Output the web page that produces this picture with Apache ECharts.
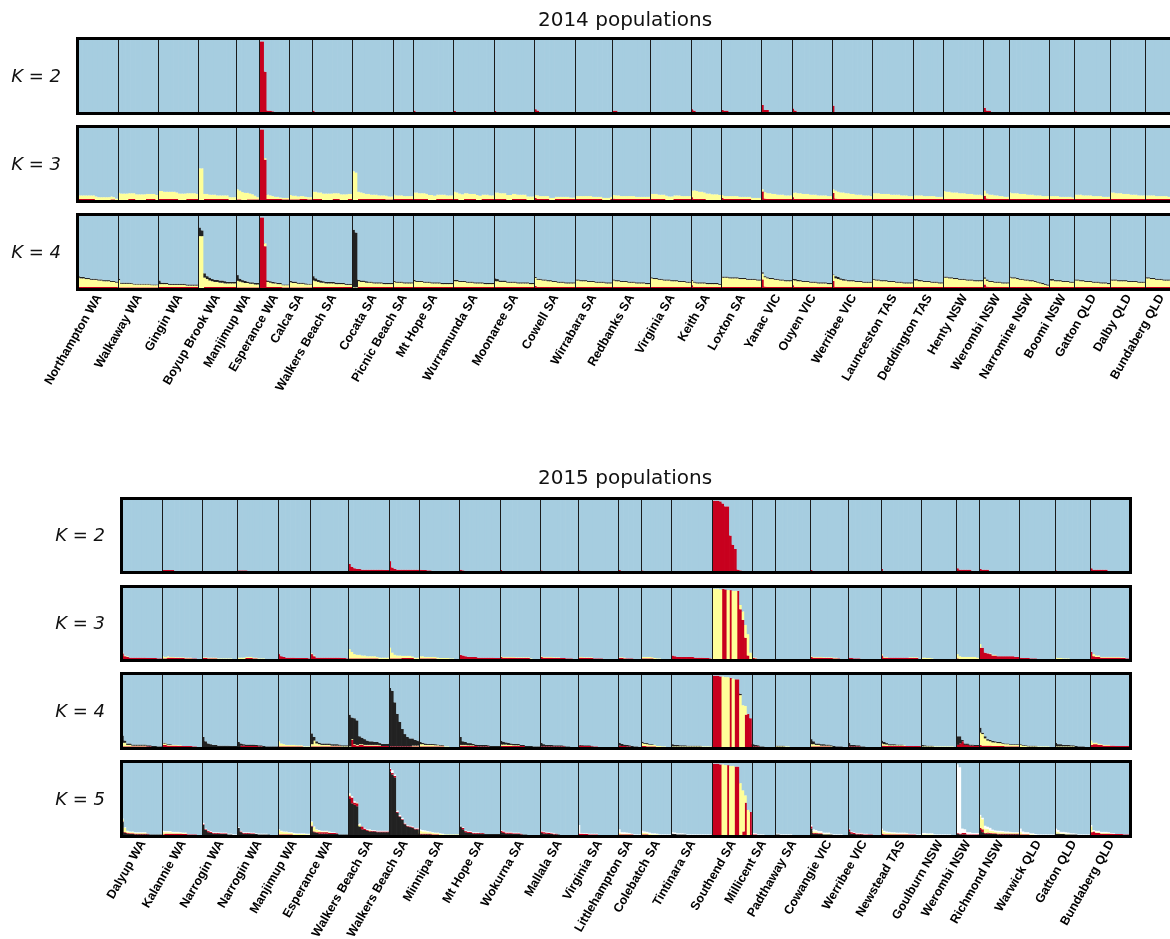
<!DOCTYPE html>
<html><head><meta charset="utf-8">
<script src="https://cdn.jsdelivr.net/npm/echarts@6/dist/echarts.min.js"></script>
<style>html,body{margin:0;padding:0;background:#fff}#c{width:1170px;height:939px}</style>
</head><body><div id="c"></div><script>
// ---------- categories ----------
const pops2014 = ["Northampton WA","Walkaway WA","Gingin WA","Boyup Brook WA","Manjimup WA","Esperance WA","Calca SA","Walkers Beach SA","Cocata SA","Picnic Beach SA","Mt Hope SA","Wurramunda SA","Moonaree SA","Cowell SA","Wirrabara SA","Redbanks SA","Virginia SA","Keith SA","Loxton SA","Yanac VIC","Ouyen VIC","Werribee VIC","Launceston TAS","Deddington TAS","Henty NSW","Werombi NSW","Narromine NSW","Boomi NSW","Gatton QLD","Dalby QLD","Bundaberg QLD"];
const n2014 = [16,16,16,15,9,12,9,16,16,8,16,16,16,16,15,15,16,12,16,12,16,16,16,12,16,10,16,10,14,14,12];
const pops2015 = ["Dalyup WA","Kalannie WA","Narrogin WA","Narrogin WA","Manjimup WA","Esperance WA","Walkers Beach SA","Walkers Beach SA","Minnipa SA","Mt Hope SA","Wokurna SA","Mallala SA","Virginia SA","Littlehampton SA","Colebatch SA","Tintinara SA","Southend SA","Millicent SA","Padthaway SA","Cowangie VIC","Werribee VIC","Newstead TAS","Goulburn NSW","Werombi NSW","Richmond NSW","Warwick QLD","Gatton QLD","Bundaberg QLD"];
const n2015 = [16,16,14,16,13,15,16,12,16,16,16,15,16,9,12,16,16,9,14,15,13,16,14,9,16,14,14,16];

// ---------- 2014, membership (%) per individual, per population ----------
const k2_14_red = [[],[],[],[],[],[98,98,56,2,2,1],[],[2],[],[],[2],[1.5],[1.5],[4,2],[],[2,2],[],[4,2],[3,2,2],[10,3,3],[5,2],[9],[],[],[],[6,2,2],[],[],[1],[],[]];

const k3_14_red = [
[1.5,1.5,1.5,1.5,1.5,1.5,1.5,0,0,0,0,0,0,1,1,0],
[0,0,0,0,1.5,1.5,1.5,0,0,0,0,1.5,1.5,1.5,1.5,0],
[1.5,1.5,1.5,1.5,1.5,1.5,1.5,1.5,0,0,0,1.5,1.5,1.5,1.5,1.5],
[0,0,1.5,1.5,1.5,1.5,1.5,1.5,1.5,1.5,1.5,1.5,0,0,0],
[1,1,0,0,1,1,1,1,1],
[98,98,56,1.5,1.5,1.5,1.5,1.5,1.5,1,1,1],
[1,1,1,1,1.5,1.5,1.5,1,1],
[1.5,1.5,1.5,1.5,0,0,0,0,1.5,1.5,1.5,0,0,0,1.5,1.5],
[0,0,1.5,1.5,1.5,1.5,1.5,1.5,1.5,1.5,1.5,1.5,1.5,1,1,1],
[1.5,1.5,1.5,1.5,1.5,1.5,1.5,1.5],
[1.5,1.5,1.5,1.5,1.5,1.5,0,0,0,1.5,1.5,1.5,1.5,1.5,1.5,1.5],
[1.5,1.5,0,0,1.5,1.5,1.5,1.5,1.5,0,0,1.5,1.5,1.5,1.5,1.5],
[1.5,1.5,1.5,1.5,1.5,0,0,1.5,1.5,1.5,1.5,1.5,1.5,0,0,0],
[3,1.5,1.5,1.5,1.5,1.5,0,0,1.5,1.5,1.5,1.5,1.5,1.5,1.5,1.5],
[1.5,1.5,1.5,1.5,1.5,1.5,1.5,1.5,1.5,1.5,1.5,0,0,0,1.5],
[2,1.5,1.5,1.5,1.5,1.5,1.5,1.5,1.5,1.5,1.5,1.5,1.5,1.5,1.5],
[1.5,1.5,1.5,1.5,1.5,1.5,0,0,0,1.5,1.5,1.5,1.5,1.5,1.5,1.5],
[4,1.5,1.5,1.5,1.5,1.5,0,0,0,0,0,0],
[3,1.5,1.5,1.5,1.5,1.5,1.5,1.5,1.5,1.5,1.5,1.5,0,0,0,0],
[12,2,1.5,1.5,1.5,1.5,1.5,1.5,1.5,1.5,1.5,1.5],
[4,1.5,1.5,1.5,1.5,1.5,1.5,1.5,1.5,1.5,1.5,1.5,1.5,1.5,1.5,1.5],
[10,2,1.5,1.5,1.5,1.5,1.5,1.5,1.5,1.5,1.5,1.5,1.5,1.5,1.5,1.5],
[1.5,1.5,1.5,1.5,1.5,1.5,1.5,1.5,1.5,1.5,1.5,1.5,1.5,1.5,1.5,1.5],
[1.5,1.5,1.5,1.5,1.5,1.5,1.5,1.5,1.5,1.5,1.5,1.5],
[1.5,1.5,1.5,1.5,1.5,1.5,1.5,1.5,1.5,1.5,1.5,1.5,1.5,1.5,1.5,1.5],
[6,2,1.5,1.5,1.5,1.5,1.5,1.5,1.5,1.5],
[1.5,1.5,1.5,1.5,1.5,1.5,1.5,1.5,1.5,1.5,1.5,1.5,1.5,1.5,1.5,1.5],
[1.5,1.5,1.5,1.5,1.5,1.5,1.5,1.5,1.5,1.5],
[1.5,1.5,1.5,1.5,1.5,1.5,1.5,1.5,1.5,1.5,1.5,1.5,1.5,1.5],
[1.5,1.5,1.5,1.5,1.5,1.5,1.5,1.5,1.5,1.5,1.5,1.5,1.5,1.5],
[1.5,1.5,1.5,1.5,1.5,1.5,1.5,1.5,1.5,1.5,1.5,1.5]];
const k3_14_yel = [
[5,5,5,5,5,5,5,5,4,4,4,4,4,4,3,2],
[10,9,9,9,8,8,8,8,8,8,8,7,7,7,7,7],
[11,11,10,10,10,10,10,9,9,9,9,8,8,8,8,7],
[44,44,7,7,6,6,6,5,5,5,5,5,4,4,4],
[14,12,11,10,9,8,7,5,3],
[0,0,2,6,5,4,3,3,2,2,2,2],
[6,5,5,4,4,4,3,3,3],
[10,10,9,9,9,9,9,9,8,8,8,8,8,8,7,7],
[40,38,10,9,8,7,7,6,6,6,5,5,5,5,4,4],
[6,5,5,5,4,4,4,4],
[9,9,8,8,8,7,7,7,6,6,6,6,6,5,5,5],
[10,9,9,8,8,8,7,7,7,7,6,6,6,6,5,5],
[9,9,8,8,8,7,7,7,7,6,6,6,6,5,5,5],
[4,5,4,4,4,4,3,3,3,3,3,3,3,3,2,2],
[4,4,4,4,4,4,4,3,3,3,3,3,3,3,3],
[5,5,5,4,4,4,4,4,4,3,3,3,3,3,3],
[7,7,7,6,6,6,6,5,5,5,5,5,4,4,4,4],
[9,12,11,10,10,9,9,9,8,8,8,7],
[4,4,4,4,4,4,4,3,3,3,3,3,3,3,3,3],
[3,9,8,8,7,7,6,6,6,5,5,5],
[6,9,8,8,7,7,7,6,6,6,5,5,5,5,4,4],
[5,11,10,9,9,8,8,7,7,6,6,6,5,5,5,4],
[8,8,8,7,7,7,7,6,6,6,6,5,5,5,4,4],
[5,5,5,5,4,4,4,4,4,3,3,3],
[11,10,10,9,9,9,8,8,8,7,7,7,6,6,6,5],
[7,7,6,6,5,5,4,4,3,3],
[9,8,8,8,7,7,7,6,6,6,5,5,5,4,4,4],
[4,4,4,4,3,3,3,3,3,2],
[6,6,6,5,5,5,5,4,4,4,4,3,3,3],
[9,9,8,8,8,7,7,7,6,6,6,5,5,5],
[5,5,5,5,4,4,4,4,4,3,3,3]];

const k4_14_red = [
[1.5,1.5,1.5,1.5,1.5,1.5,1.5,1.5,1.5,1.5,1.5,1.5,1.5,1.5,1.5,1.5],
[1,1,1,1,1,1,1,1,1,1,1,1,1,1,1,1],
[1.5,1.5,1.5,1.5,1.5,1.5,1.5,1.5,1.5,1.5,1.5,1.5,1.5,1.5,1.5,1.5],
[0,0,1.5,1.5,1.5,1.5,1.5,1.5,1.5,1.5,1.5,1.5,1.5,1.5,1.5],
[1,1,1,1,1,1,1,1,1],
[98,98,58,1.5,1.5,1.5,1.5,1.5,1.5,1,1,1],
[1,1,1,1,1,1,1,1,1],
[1.5,1.5,1.5,1.5,1.5,1.5,1.5,1.5,1.5,1.5,1.5,1.5,1.5,1.5,1.5,1.5],
[0,0,1.5,1.5,1.5,1.5,1.5,1.5,1.5,1.5,1.5,1.5,1.5,1.5,1.5,1.5],
[1.5,1.5,1.5,1.5,1.5,1.5,1.5,1.5],
[1.5,1.5,1.5,1.5,1.5,1.5,1.5,1.5,1.5,1.5,1.5,1.5,1.5,1.5,1.5,1.5],
[1.5,1.5,1.5,1.5,1.5,1.5,1.5,1.5,1.5,1.5,1.5,1.5,1.5,1.5,1.5,1.5],
[1.5,1.5,1.5,1.5,1.5,1.5,1.5,1.5,1.5,1.5,1.5,1.5,1.5,1.5,1.5,1.5],
[3,1.5,1.5,1.5,1.5,1.5,1.5,1.5,1.5,1.5,1.5,1.5,1.5,1.5,1.5,1.5],
[1.5,1.5,1.5,1.5,1.5,1.5,1.5,1.5,1.5,1.5,1.5,1.5,1.5,1.5,1.5],
[1.5,1.5,1.5,1.5,1.5,1.5,1.5,1.5,1.5,1.5,1.5,1.5,1.5,1.5,1.5],
[1.5,1.5,1.5,1.5,1.5,1.5,1.5,1.5,1.5,1.5,1.5,1.5,1.5,1.5,1.5,1.5],
[4,1.5,1.5,1.5,1.5,1.5,1.5,1.5,1.5,1.5,1.5,1.5],
[1.5,1.5,1.5,1.5,1.5,1.5,1.5,1.5,1.5,1.5,1.5,1.5,1.5,1.5,1.5,1.5],
[12,2,1.5,1.5,1.5,1.5,1.5,1.5,1.5,1.5,1.5,1.5],
[4,1.5,1.5,1.5,1.5,1.5,1.5,1.5,1.5,1.5,1.5,1.5,1.5,1.5,1.5,1.5],
[10,1.5,1.5,1.5,1.5,1.5,1.5,1.5,1.5,1.5,1.5,1.5,1.5,1.5,1.5,1.5],
[1.5,1.5,1.5,1.5,1.5,1.5,1.5,1.5,1.5,1.5,1.5,1.5,1.5,1.5,1.5,1.5],
[1.5,1.5,1.5,1.5,1.5,1.5,1.5,1.5,1.5,1.5,1.5,1.5],
[1.5,1.5,1.5,1.5,1.5,1.5,1.5,1.5,1.5,1.5,1.5,1.5,1.5,1.5,1.5,1.5],
[5,2,1.5,1.5,1.5,1.5,1.5,1.5,1.5,1.5],
[1.5,1.5,1.5,1.5,1.5,1.5,1.5,1.5,1.5,1.5,1.5,1.5,1.5,1.5,1.5,1.5],
[1.5,1.5,1.5,1.5,1.5,1.5,1.5,1.5,1.5,1.5],
[1.5,1.5,1.5,1.5,1.5,1.5,1.5,1.5,1.5,1.5,1.5,1.5,1.5,1.5],
[1.5,1.5,1.5,1.5,1.5,1.5,1.5,1.5,1.5,1.5,1.5,1.5,1.5,1.5],
[1.5,1.5,1.5,1.5,1.5,1.5,1.5,1.5,1.5,1.5,1.5,1.5]];
const k4_14_yel = [
[13,12,12,11,11,10,10,10,9,9,8,8,8,7,7,6],
[10,5,5,5,5,5,4,4,4,4,4,4,4,3,3,3],
[4,4,4,4,3,3,3,3,3,3,3,2,2,2,2,2],
[72,72,13,11,9,8,7,7,6,6,5,5,5,5,5],
[9,8,7,6,6,5,5,4,4],
[0,0,4,7,6,5,5,4,4,3,3,3],
[7,6,6,5,5,5,4,4,4],
[9,8,7,6,6,5,5,5,5,4,4,4,4,3,3,3],
[1,1,8,7,7,6,6,6,5,5,5,5,4,4,4,4],
[7,6,6,6,5,5,5,5],
[8,7,7,7,6,6,6,5,5,5,5,4,4,4,4,4],
[8,8,7,7,7,6,6,6,5,5,5,5,4,4,4,4],
[8,8,7,7,7,6,6,6,6,5,5,5,5,5,4,4],
[11,10,10,9,9,8,8,7,7,6,6,6,5,5,5,5],
[9,9,8,8,8,7,7,7,6,6,6,6,5,5,5],
[9,8,8,7,7,7,6,6,6,5,5,5,5,4,4],
[12,11,11,10,10,9,9,9,8,8,8,7,7,7,6,6],
[6,6,5,5,5,5,4,4,4,4,4,3],
[13,13,13,12,12,12,12,11,11,11,10,10,10,10,9,9],
[8,13,12,11,11,10,10,9,9,8,8,8],
[7,9,8,8,7,7,7,6,6,6,5,5,5,5,4,4],
[8,12,11,10,9,9,8,8,8,7,7,7,6,6,6,6],
[10,9,9,8,8,8,7,7,7,6,6,6,5,5,5,5],
[9,9,8,8,7,7,7,6,6,6,5,5],
[13,13,12,12,11,11,10,10,10,9,9,9,8,8,8,8],
[8,8,7,7,6,6,6,5,5,5],
[13,12,12,11,10,10,9,9,8,8,7,6,5,4,3,2],
[9,9,8,8,8,7,7,7,6,6],
[9,9,8,8,7,7,7,6,6,6,5,5,5,4],
[9,9,9,8,8,8,8,7,7,7,7,6,6,6],
[12,12,11,11,10,10,10,9,9,9,8,8]];
const k4_14_blk = [
[2,2,2,1.5,1.5,1.5,1.5,1.5,1.5,1.5,1.5,1.5,1.5,1.5,1.5,1.5],
[2,1.5,1.5,1.5,1.5,1,1,1,1,1,1,1,1,1,1,1],
[5,2,2,1.5,1.5,1.5,1.5,1.5,1.5,1.5,1.5,1.5,1.5,1.5,1.5,1.5],
[12,8,6,4,4,3,3,3,3,3,3,2,2,2,2],
[8,4,3,3,2,2,2,2,2],
[0,0,0,2,2,2,1.5,1.5,1.5,1,1,1],
[2,2,2,1.5,1.5,1.5,1.5,1,1],
[6,4,3,3,2,2,2,2,2,2,2,1.5,1.5,1.5,1.5,1.5],
[80,76,2,2,2,2,1.5,1.5,1.5,1.5,1.5,1.5,1.5,1.5,1.5,1.5],
[1.5,1.5,1.5,1.5,1.5,1.5,1.5,1.5],
[2,1.5,1.5,1.5,1.5,1.5,1.5,1.5,1.5,1.5,1.5,1.5,1.5,1.5,1.5,1.5],
[2,2,1.5,1.5,1.5,1.5,1.5,1.5,1.5,1.5,1.5,1.5,1.5,1.5,1.5,1.5],
[4,3,2,2,2,1.5,1.5,1.5,1.5,1.5,1.5,1.5,1.5,1.5,1.5,1.5],
[1.5,1.5,1.5,1.5,1.5,1.5,1.5,1.5,1.5,1.5,1.5,1.5,1.5,1.5,1.5,1.5],
[1.5,1.5,1.5,1.5,1.5,1.5,1.5,1.5,1.5,1.5,1.5,1.5,1.5,1.5,1.5],
[1.5,1.5,1.5,1.5,1.5,1.5,1.5,1.5,1.5,1.5,1.5,1.5,1.5,1.5,1.5],
[1.5,1.5,1.5,1.5,1.5,1.5,1.5,1.5,1.5,1.5,1.5,1.5,1.5,1.5,1.5,1.5],
[1.5,1.5,1.5,1.5,1.5,1.5,1.5,1.5,1.5,1.5,1.5,1.5],
[1.5,1.5,1.5,1.5,1.5,1.5,1.5,1.5,1.5,1.5,1.5,1.5,1.5,1.5,1.5,1.5],
[2,1.5,1.5,1.5,1.5,1.5,1.5,1.5,1.5,1.5,1.5,1.5],
[2,2,2,1.5,1.5,1.5,1.5,1.5,1.5,1.5,1.5,1.5,1.5,1.5,1.5,1.5],
[1,3,3,2,2,1.5,1.5,1.5,1.5,1.5,1.5,1.5,1.5,1.5,1.5,1.5],
[1.5,1.5,1.5,1.5,1.5,1.5,1.5,1.5,1.5,1.5,1.5,1.5,1.5,1.5,1.5,1.5],
[2,2,2,1.5,1.5,1.5,1.5,1.5,1.5,1.5,1.5,1.5],
[1.5,1.5,1.5,1.5,1.5,1.5,1.5,1.5,1.5,1.5,1.5,1.5,1.5,1.5,1.5,1.5],
[2,2,1.5,1.5,1.5,1.5,1.5,1.5,1.5,1.5],
[1.5,1.5,1.5,1.5,1.5,1.5,1.5,1.5,1.5,1.5,1.5,1.5,1.5,1.5,1.5,1.5],
[2,2,1.5,1.5,1.5,1.5,1.5,1.5,1.5,1.5],
[1.5,1.5,1.5,1.5,1.5,1.5,1.5,1.5,1.5,1.5,1.5,1.5,1.5,1.5],
[1.5,1.5,1.5,1.5,1.5,1.5,1.5,1.5,1.5,1.5,1.5,1.5,1.5,1.5],
[1.5,1.5,1.5,1.5,1.5,1.5,1.5,1.5,1.5,1.5,1.5,1.5]];

// ---------- 2015 ----------
const k2_15_red = [[],[1.5,1.5,1.5,1.5,1.5],[],[1,1,1,1],[],[],
[10,6,4,3,3,2,2,2,2,2,2,2,2,2,1.5,1.5],[14,5,3,2,2,2,2,2,2,2,2,2],
[2,1.5,1.5,1,1],[2,1],[1.5],[1],[1],[1.5],[1],[],
[99,99,99,98,95,91,91,50,37,31,2,1],[],[],[1.5],[],[3],[],[4,2,2,2,2,2],[3,2,2,2],[],[1],[4,2,2,2,2,2,2]];

const k3_15_red = [
[8,4,3,2,2,2,2,2,2,2,1.5,1.5,1.5,1.5,1,1],
[1,1,2,2,2,1.5,1.5,1.5,1.5,1,1,1,1,1],
[1.5,1.5,1,1,1,1],
[0,0,0,1.5,1.5,1.5,1,1],
[7,4,3,2,2,2,2,1.5,1.5,1.5,1.5,1.5,1],
[7,4,2,2,2,2,2,2,2,2,2,2,1.5,1.5,1],
[1,1,1,1,1,1,1,1,1,1,1,1],
[1,1,1,1,1,1.5,1.5,1.5,1.5,1.5],
[1,1,1,1,1,1,1],
[6,5,4,3,3,3,3,2,2,2,2,2,2,2,1.5,1.5],
[3,2,2,2,2,2,1.5,1.5,1.5,1.5,1.5,1.5],
[3,2,2,2,2,1.5,1.5,1.5,1.5,1.5,1,1,1],
[2,2,1.5,1.5,1.5,1.5,1,1,1,1],
[1.5,1.5,1,1,1,1],
[1,1,1,1,1],
[5,4,3,3,3,3,3,3,3,2,2,2,2,1.5,1.5,1],
[0,0,0,0,99,98,0,97,0,0,96,70,55,30,5,0],
[1.5,1],
[],
[3,2,2,2,2,1.5,1.5,1.5,1.5,1,1,1],
[2,1.5,1,1,1],
[5,2,2,2,2,2,2,2,2,2,2,1.5,1.5,1.5,1.5],
[],
[1],
[16,16,9,8,7,5,5,4,4,4,4,4,4,4,3,3],
[2,1.5,1.5,1.5,1,1,1],
[],
[10,4,3,3,2,2,2,2,2,2,2,2,1.5,1.5,1,1]];
const k3_15_yel = [
[1,1,1],
[3,2,2,1,1,1,1,1,1,1,1,1],
[1,1,1,1,1,1,1,1,1,1,1,1],
[2,2,2,1.5,1.5,1.5,1,1,1,1,1],
[],
[1,1],
[13,9,6,5,5,4,4,3,3,3,3,2,2,2,2,2],
[15,8,5,4,4,3,3,3,3,2,2,2],
[3,3,2,2,2,2,2,2,1.5,1.5,1.5,1.5,1,1],
[],
[1,1,1,1,1,1,1,1,1,1,1,1,1],
[1,1,1,1,1,1,1,1],
[1,1,1,1,1,1],
[1,1,1],
[2,2,2,2,1.5,1.5,1,1],
[],
[99,99,99,98,0,0,97,0,96,96,0,6,12,18,30,9],
[1,1],
[],
[1,1,1,1,1,1,1,1,1,1,1],
[],
[2,1,1,0,0,0,0,0,0,0,0,1,1,1,1],
[2,2,1.5,1.5,1],
[6,4,3,3,3,3,3,3,2],
[5,0,0,0,1,1,1],
[],
[2,1.5,1.5,1,1,1],
[0,3,2,2,1,1,1,1,1,1,1,1,1,1]];

const k4_15_red = [
[1,1,1,1,1,1,1,1,1,1,1,1],
[3,3,2,2,2,2,1.5,1.5,1.5,1.5,1.5,1.5,1,1],
[],
[0,2,2,1.5,1.5,1.5,1.5,1.5,1,1],
[1,1,1,1,1,1,1,1,1,1],
[1,1,1,1,1,1,1,1,1,1,1,1],
[0,10,3,2,3,3,2,2,2,2,2,2,1.5,1.5,1.5,1.5],
[1,1,1,1,1,1,1,1,1,1,1,1],
[1,1,1,1,1,1,1,1,1,1],
[2,2,2,1.5,1.5,1.5,1.5,1,1,1,1,1],
[1.5,1.5,1.5,1.5,1.5,1.5,1.5,1.5,1.5,1.5],
[1,1,1,1,1,1,1,1,1,1],
[2,2,1.5,1.5,1.5,1,1,1],
[2,1.5,1.5,1,1],
[1.5,1.5,1,1,1,1],
[],
[99,99,99,98,0,0,0,96,0,94,94,0,0,45,46,40],
[1,1,1],
[],
[1,1,1,1,1,1,1,1],
[1,1,1,1,1],
[2,2,1.5,1.5,1.5,1.5,1.5,1.5,1.5,1.5,1.5,1.5,1.5,1.5,1.5,1.5],
[],
[3,5,8,3,3,2,2,1.5,1.5],
[3,2,2,2,2,1.5,1.5,1.5,1.5,1.5,1,1,1,1,1,1],
[],
[],
[3,4,4,3,3,2,2,2,2,2,1.5,1.5,1.5,1.5,1.5,1.5]];
const k4_15_yel = [
[5,5,2,2,1,1,1,1,1,1],
[2,2,1,1,1,1,1,1],
[],
[],
[7,4,3,2,2,2,2,1.5,1.5,1.5,1,1,1],
[3,8,4,3,2,2,2,2,1,1,1,1,1,1,1],
[1,1,1,1,1,1,1,1,1,1,1,1,1],
[0,0,0,0,0,0,0,0,0,1,1,1],
[3,3,2,2,2,2,1.5,1.5,1,1,1,1],
[1,1,1,1,1,1],
[2,2,2,1.5,1.5,1,1,1],
[],
[],
[],
[4,3,3,2,2,2,1.5,1.5,1,1],
[1,1,1,1,1,1,1,1,1,1,1,1,1,1,1,1],
[0,0,0,0,98,97,97,0,95,0,0,72,58,12,0,0],
[],
[1,1,1,1,1,1],
[3,3,2,2,1,1,1,1,1],
[],
[3,2,2,1,1,1,1,1,1,1],
[1,1,1,1,1,1,1,1,1,1,1,1,1],
[],
[17,16,10,7,6,5,5,4,4,3,3,3,2,2,2,2],
[3,2,1.5,1,1,1,1,1,1,1,1,1],
[1,1,1,1,1,1,1,1],
[6,2,2,1.5,1,1,1,1]];
const k4_15_blk = [
[10,3,2,2,1.5,1.5,1.5,1.5,1.5,1.5,1.5,1.5,1.5,1.5,1,1],
[1,1,1,1],
[14,8,5,4,3,3,2,2,2,2,2,1.5,1.5,1.5],
[7,3,2,2,2,2,2,1.5,1.5,1.5,1.5,1,1,1,1,1],
[],
[15,5,3,2,2,2,2,2,2,2,2,1.5,1.5,1.5,1.5],
[44,30,36,34,11,9,8,6,5,5,4,4,3,3,3,3],
[81,77,61,45,34,24,17,13,11,10,8,7],
[3,2,2,1.5,1.5,1.5,1.5,1,1,1],
[11,5,4,3,3,2,2,2,2,2,2,1.5,1.5,1.5,1.5,1.5],
[5,4,3,3,2,2,2,2,1.5,1.5,1.5,1.5,1.5,1,1,1],
[5,3,2,2,2,1.5,1.5,1.5,1.5,1,1,1],
[1,1,1,1,1,1],
[4,3,2,2,1.5,1.5,1,1],
[2,1.5,1.5,1,1],
[3,2,2,1.5,1.5,1.5,1,1,1,1,1,1],
[0,0,0,0,0,0,0,0,0,0,0,2,0,0,0,0],
[3,2,1.5,1,1],
[1,1,1,1],
[7,4,2,2,2,2,1.5,1.5,1.5,1.5,1,1,1],
[5,2,2,1.5,1.5,1,1],
[4,3,2,1.5,1.5,1.5,1,1,1],
[2,1.5,1,1,1],
[12,10,2,2,2,1.5,1.5,1.5,1.5],
[7,2,3,2,2,2,1.5,1.5,1.5,1,1,1,1,1,1,1],
[1,1,1,1,1,1,1],
[5,3,3,2,2,2,1.5,1.5,1.5,1,1,1],
[]];

const k5_15_blk = [
[18,3,2,1.5,1.5,1,1,1,1,1,1,1,1,1,1,1],
[],
[14,7,4,3,2,2,2,1.5,1.5,1.5,1,1],
[10,4,2,2,2,1.5,1.5,1.5,1,1,1,1,1],
[],
[12,4,3,2,2,2,2,1.5,1.5,1.5,1.5,1,1,1,1],
[50,44,42,40,12,8,7,6,5,5,5,4,4,4,4,4],
[88,84,80,31,25,21,15,12,11,10,8,8],
[1,1,1,1,1],
[12,8,4,3,3,2,2,2,2,2,1.5,1.5,1.5,1.5,1.5,1.5],
[4,3,2,2,2,1.5,1.5,1.5,1,1,1],
[3,2,2,1.5,1.5,1,1,1],
[],
[],
[],
[2,1.5,1,1,1,1],
[],
[],
[1,1],
[9,2,2,1.5,1.5,1,1,1,1],
[5,2,1.5,1,1,1],
[],
[],
[2,1,1,1],
[7,4,2,2,2,1.5,1.5,1,1,1,1,1,1,1,1,1],
[],
[2,2,1.5,1.5,1,1,1,1,1],
[]];
const k5_15_red = [
[1,1,1,1,1,1,1,1,1,1,1],
[1,2,2,2,2,2,2,2,1.5,1.5,1,1,1,1],
[1,1,1.5,1.5,1,1,1,1,1,1],
[0,1,1,1,1,1,1],
[1,1,1,1,1,1],
[1,1,1,2,2,2,2,1.5,1.5,1.5,1],
[4,8,3,4,0,4,2,1,1,1,1,1,1,1,1,1],
[4,2,2,1,1,1,1,1,1,1,1,1],
[1,1,1,1,1,1,1,1],
[0,2,1.5,1.5,1.5,1,1,1,1,1],
[2,2,1.5,1.5,1.5,1,1,1,1],
[2,2,1.5,1.5,1,1,1],
[2,2,1.5,1.5,1,1,1,1],
[1,1,1,1,1,1],
[1,1,1],
[],
[99,99,99,98,0,0,97,0,0,95,95,0,5,45,0,32],
[1,1],
[],
[3,1,1,1,1],
[3,2,1.5,1,1,1,1,1,1,1],
[2,1,1,1,1,1,1,1,1,1,1,1,1,1],
[],
[1,1,2,2,1,1,1,1,1],
[3,4,1,1.5,1,1,1,1,1,1,1,1,1,1,1,1],
[1,1,1,1],
[],
[4,5,3,3,2,2,2,2,2,1.5,1.5,1.5,1.5,1,1,1]];
const k5_15_yel = [
[3,6,2,1.5,1.5,1,1,1,1,1],
[3,2,2,2,1.5,1.5,1.5,1,1,1],
[],
[],
[6,4,3,3,2,2,2,1.5,1.5,1.5,1.5,1,1],
[5,6,3,2,1,1,1,1],
[2,0,0,1,2,0,0,0,1],
[],
[4,3,3,2,2,2,1.5,1.5,1.5,1,1,1,1,1,1,1],
[],
[],
[],
[],
[2,1,1,1,1],
[2,2,1.5,1.5,1,1,1],
[],
[0,0,0,0,98,97,0,96,96,0,0,72,57,10,35,0],
[],
[],
[0,2,2,1,1,1,1,1],
[],
[5,3,2,2,1.5,1.5,1,1,1,1,1],
[1,1,1,1,1],
[],
[16,14,6,5,3,3,2,2,2,2,1.5,1.5,1.5,1,1,1],
[3,1,1,1,1,1],
[3,2,1,1,1,1],
[8,0,1,1,1,1,1,1]];
const k5_15_wht = [
[1,1,1,1,1,1,1,1,1,1],
[2,1.5,1.5,1.5,1,1,1,1,1,1],
[2,1,1,1,1,1,1,1,1,1,1,1,1,1],
[1,1,1,1,1,1,1,1,1,1,1,1],
[1,1,1,1,1,1,1,1,1,1,1,1,1],
[1,1,1,1,1,1,1,1,1,1],
[2,2,2,0,2,0,1,1,1,1,1,1,1,1,1,1],
[1,4,2,2,2,2,1,1,1,1,1,1],
[2,2,1.5,1.5,1,1,1,1,1,1],
[1,1,1,1,1,1,1,1],
[1,1,1,1,1,1,1,1],
[1,1,1,1,1,1],
[12,1,1,1,1,1,1,1],
[5,2,2,1.5,1,1,1,1,1],
[3,2,2,2,1.5,1.5,1,1,1,1,1,1],
[2,2,1.5,1.5,1.5,1,1,1,1,1,1,1,1,1,1,1],
[],
[2,1.5,1,1,1],
[1,1,1,1,1,1,1],
[2,3,2,2,2,1.5,1.5,1.5,1,1,1,1,1],
[1,1,1,1,1,1,1,1],
[2,2,2,1.5,1.5,1.5,1.5,1.5,1.5,1.5,1,1,1,1,1,1],
[2,2,1.5,1.5,1.5,1,1,1,1,1,1,1],
[95,92,6,5,3,3,2,2,2],
[2,2,4,3,4,2,2,2,2,1.5,1.5,1.5,1,1,1,1],
[5,3,2,2,1.5,1.5,1.5,1,1,1,1,1,1,1],
[4,3,2,2,2,1.5,1.5,1.5,1,1,1,1,1,1],
[2,2,2,2,1.5,1.5,1.5,1,1,1]];

// ---------- build ----------
const COL = {red:'#c8001e', yel:'#ffff99', blk:'#222222', wht:'#ffffff', blu:'#a6cde0'};
const panels = [
  {pops: pops2014, n: n2014, left: 77.5, width: 1098, margin: 6},
  {pops: pops2015, n: n2015, left: 121.5, width: 1009, margin: 5}
];
const rows = [
  {p:0, top:38.5,  h:75, label:'K = 2', layers:[['red',k2_14_red]]},
  {p:0, top:126.5, h:75, label:'K = 3', layers:[['red',k3_14_red],['yel',k3_14_yel]]},
  {p:0, top:214.5, h:75, label:'K = 4', layers:[['red',k4_14_red],['yel',k4_14_yel],['blk',k4_14_blk]], names:true},
  {p:1, top:498.5, h:74, label:'K = 2', layers:[['red',k2_15_red]]},
  {p:1, top:586.5, h:74, label:'K = 3', layers:[['red',k3_15_red],['yel',k3_15_yel]]},
  {p:1, top:673.5, h:75, label:'K = 4', layers:[['red',k4_15_red],['yel',k4_15_yel],['blk',k4_15_blk]]},
  {p:1, top:761.5, h:75, label:'K = 5', layers:[['blk',k5_15_blk],['red',k5_15_red],['yel',k5_15_yel],['wht',k5_15_wht]], names:true}
];

const grid=[], xAxis=[], yAxis=[], series=[], graphic=[];
rows.forEach((r, gi) => {
  const P = panels[r.p];
  const ids=[], starts=new Set(), mids=new Set();
  P.n.forEach((cnt, p) => {
    starts.add(ids.length);
    mids.add(ids.length + Math.floor(cnt/2));
    for (let i=0;i<cnt;i++) ids.push(p+'_'+i);
  });
  const bw = P.width / ids.length + 0.7;
  const expand = arr => { const out=[]; P.n.forEach((cnt,p)=>{ for(let i=0;i<cnt;i++) out.push((arr[p]&&arr[p][i])||0); }); return out; };
  grid.push({left:P.left, top:r.top, width:P.width, height:r.h, show:true, borderColor:'#000', borderWidth:3,
    backgroundColor:'transparent', z:10, outerBoundsMode:'none', containLabel:false});
  xAxis.push({type:'category', gridIndex:gi, data:ids, z:6,
    axisLine:{show:false}, axisTick:{show:false},
    splitLine:{show:true, interval:(i)=>starts.has(i) && i>0, lineStyle:{color:'#1a1a1a', width:1}},
    axisLabel: r.names ? {show:true, interval:(i)=>mids.has(i), formatter:(v)=>P.pops[+v.split('_')[0]],
      rotate:60, margin:P.margin, fontSize:12.5, fontWeight:'bold', fontFamily:'"Liberation Sans", Arial, sans-serif', color:'#000'} : {show:false}
  });
  // axis range padded by the frame thickness so that 0..100 sits inside the border
  const pad = 1.5 / r.h * 100;
  yAxis.push({type:'value', gridIndex:gi, min:-pad, max:100+pad, show:false});
  const sum = new Array(ids.length).fill(0);
  r.layers.forEach(([c, arr]) => {
    const d = expand(arr);
    d.forEach((v,i)=>sum[i]+=v);
    series.push({type:'bar', xAxisIndex:gi, yAxisIndex:gi, stack:'s'+gi, data:d, barWidth:bw, silent:true,
      itemStyle:{color:COL[c]}});
  });
  series.push({type:'bar', xAxisIndex:gi, yAxisIndex:gi, stack:'s'+gi, data:sum.map(s=>Math.max(0,100-s)), barWidth:bw, silent:true,
    itemStyle:{color:COL.blu}});
  graphic.push({type:'text', x: r.p===0 ? 61 : 105, y: r.top + r.h/2 + 1,
    style:{text:r.label, font:'italic 18px "DejaVu Sans", Verdana, sans-serif', fill:'#111', align:'right', verticalAlign:'middle', textAlign:'right', textVerticalAlign:'middle'}});
});
graphic.push({type:'text', x:625, y:21, style:{text:'2014 populations', font:'20px "DejaVu Sans", Verdana, sans-serif', fill:'#111', align:'center', verticalAlign:'middle', textAlign:'center', textVerticalAlign:'middle'}});
graphic.push({type:'text', x:625, y:479, style:{text:'2015 populations', font:'20px "DejaVu Sans", Verdana, sans-serif', fill:'#111', align:'center', verticalAlign:'middle', textAlign:'center', textVerticalAlign:'middle'}});

const chart = echarts.init(document.getElementById('c'));
chart.setOption({animation:false, backgroundColor:'#fff', grid, xAxis, yAxis, series, graphic});
</script></body></html>
